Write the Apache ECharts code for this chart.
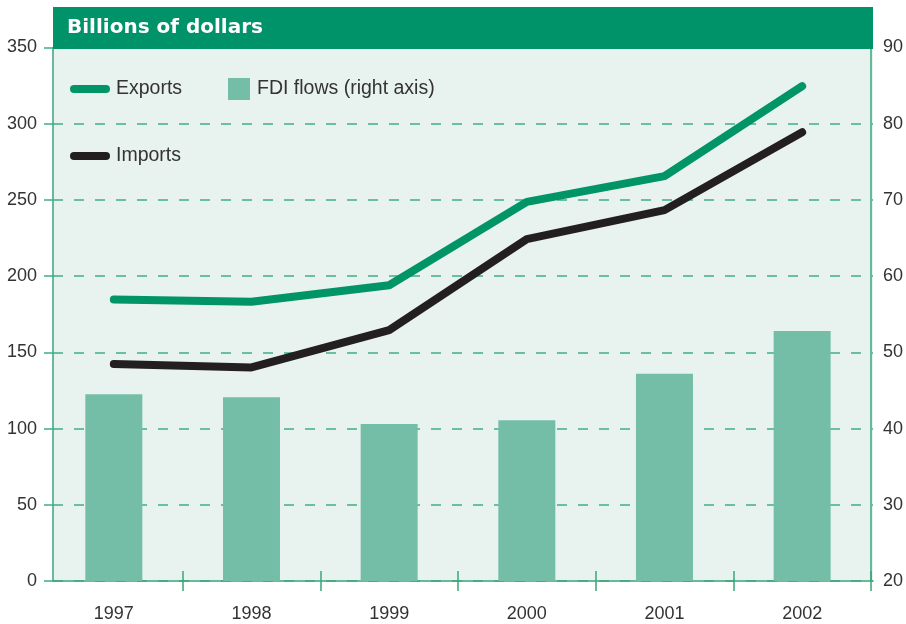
<!DOCTYPE html>
<html>
<head>
<meta charset="utf-8">
<script src="https://cdn.jsdelivr.net/npm/echarts@6/dist/echarts.min.js"></script>
<style>
  html, body { margin: 0; padding: 0; background: #fff; }
  #chart { width: 906px; height: 624px; }
</style>
</head>
<body>
<div id="chart"></div>
<script>
var years = ['1997', '1998', '1999', '2000', '2001', '2002'];
var exportsData = [184.7, 183.2, 194.0, 248.7, 265.6, 324.6];
var importsData = [142.3, 140.1, 164.6, 224.3, 243.3, 294.4];
var fdiData = [44.5, 44.1, 40.6, 41.1, 47.2, 52.8];

var FONT = '"Liberation Sans Narrow", "Liberation Sans", Arial, sans-serif';
var green = '#009466';
var axisGreen = '#3aa57c';
var pill = 'path://M4,0 L36,0 A4,4 0 0 1 36,8 L4,8 A4,4 0 0 1 4,0 Z';

var myChart = echarts.init(document.getElementById('chart'));
var option = {
	animation : false,
	backgroundColor : '#fff',
	grid : [ {
		left : 45, right : 33, top : 47.5, bottom : 43,
		show : false
	}, {
		left : 53, right : 33, top : 47.5, bottom : 43,
		show : true, backgroundColor : '#e8f2ee', borderWidth : 0
	} ],
	graphic : [ {
		type : 'rect',
		shape : { x : 53, y : 7, width : 820, height : 42 },
		style : { fill : '#00936a' },
		z : 100
	}, {
		type : 'text',
		x : 67, y : 27.5,
		style : {
			text : 'Billions of dollars',
			fill : '#fff',
			font : 'bold 20px "DejaVu Sans", sans-serif',
			verticalAlign : 'middle'
		},
		z : 101
	} ],
	legend : [ {
		data : [ { name : 'Exports', icon : pill, itemStyle : { color : green } } ],
		left : 70, top : 77, padding : 0,
		itemWidth : 40, itemHeight : 8,
		selectedMode : false,
		textStyle : { fontFamily : FONT, fontSize : 19.5, color : '#333', lineHeight : 24, padding : [0, 0, 0, 1] }
	}, {
		data : [ { name : 'FDI flows (right axis)', icon : 'rect' } ],
		left : 228, top : 77, padding : 0,
		itemWidth : 22, itemHeight : 22,
		selectedMode : false,
		textStyle : { fontFamily : FONT, fontSize : 19.5, color : '#333', lineHeight : 24, padding : [0, 0, 0, 2] }
	}, {
		data : [ { name : 'Imports', icon : pill, itemStyle : { color : '#231f20' } } ],
		left : 70, top : 144, padding : 0,
		itemWidth : 40, itemHeight : 8,
		selectedMode : false,
		textStyle : { fontFamily : FONT, fontSize : 19.5, color : '#333', lineHeight : 24, padding : [0, 0, 0, 1] }
	} ],
	xAxis : [ {
		type : 'category',
		gridIndex : 0,
		data : years,
		position : 'bottom',
		axisLine : { show : false },
		axisTick : {
			show : true, length : 10,
			interval : function(i) { return i > 0; },
			lineStyle : { color : axisGreen, width : 1.5 }
		},
		axisLabel : { fontFamily : FONT, fontSize : 18, color : '#333', margin : 24 }
	}, {
		type : 'category',
		gridIndex : 0,
		data : years,
		position : 'bottom',
		axisLine : { show : false },
		axisTick : {
			show : true, inside : true, length : 10,
			interval : function(i) { return i > 0; },
			lineStyle : { color : axisGreen, width : 1.5 }
		},
		axisLabel : { show : false }
	}, {
		type : 'value',
		gridIndex : 1,
		min : 0, max : 1,
		position : 'bottom',
		axisLine : { show : true, lineStyle : { color : axisGreen, width : 1.5 } },
		axisTick : { show : false },
		axisLabel : { show : false },
		splitLine : { show : false }
	} ],
	yAxis : [ {
		type : 'value',
		gridIndex : 1,
		min : 0, max : 350, interval : 50,
		position : 'left',
		axisLine : { show : true, lineStyle : { color : axisGreen, width : 1.5 } },
		axisTick : { show : true, length : 9, lineStyle : { color : '#3fae87', width : 1.5 } },
		axisLabel : { fontFamily : FONT, fontSize : 18, color : '#333', margin : 16 },
		splitLine : { show : true, lineStyle : { color : '#3fae87', width : 1.5, type : [10, 11] } }
	}, {
		type : 'value',
		gridIndex : 0,
		min : 0, max : 350, interval : 50,
		show : false
	}, {
		type : 'value',
		gridIndex : 0,
		min : 20, max : 90, interval : 10,
		position : 'right',
		axisLine : { show : true, lineStyle : { color : axisGreen, width : 1.5 } },
		axisTick : { show : false },
		axisLabel : { fontFamily : FONT, fontSize : 18, color : '#333', margin : 12 },
		splitLine : { show : false }
	} ],
	series : [ {
		name : 'FDI flows (right axis)',
		type : 'bar',
		xAxisIndex : 0,
		yAxisIndex : 2,
		barWidth : 57,
		itemStyle : { color : '#74bea7' },
		data : fdiData,
		z : 2
	}, {
		name : 'Exports',
		type : 'line',
		xAxisIndex : 0,
		yAxisIndex : 1,
		symbol : 'none',
		lineStyle : { color : green, width : 8, cap : 'round', join : 'round' },
		itemStyle : { color : green },
		data : exportsData,
		z : 3
	}, {
		name : 'Imports',
		type : 'line',
		xAxisIndex : 0,
		yAxisIndex : 1,
		symbol : 'none',
		lineStyle : { color : '#231f20', width : 8, cap : 'round', join : 'round' },
		itemStyle : { color : '#231f20' },
		data : importsData,
		z : 3
	} ]
};
myChart.setOption(option);
</script>
</body>
</html>
